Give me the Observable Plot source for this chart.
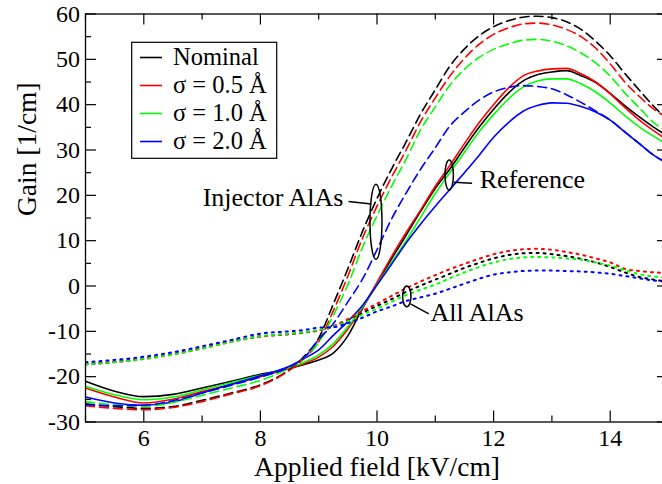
<!DOCTYPE html>
<html><head><meta charset="utf-8">
<script src="https://cdn.jsdelivr.net/npm/d3@7"></script>
<script src="https://cdn.jsdelivr.net/npm/@observablehq/plot@0.6"></script>
<style>
html,body{margin:0;padding:0;overflow:hidden;background:#fff;width:662px;height:484px}
#chart svg{max-width:none !important;display:block}
</style></head><body><div id="chart"></div>
<script>
// ---- data ----
const field = [5,5.5,6,6.5,7,7.5,8,8.5,8.75,9,9.25,9.5,9.75,10,10.25,10.5,10.75,11,11.25,11.5,11.75,12,12.25,12.5,12.75,13,13.25,13.5,13.75,14,14.25,14.5,14.75,15];

// Reference (solid)
const refNominal = [-21.0,-23.2,-24.4,-23.9,-22.5,-21.0,-19.5,-18.2,-17.3,-16.3,-14.8,-11.0,-5.0,0.5,6.0,11.2,16.5,21.5,25.8,30.5,35.0,39.0,42.5,45.2,46.6,47.2,47.5,46.4,44.9,42.5,39.8,37.3,35.0,33.0];
const refS05 = [-22.5,-24.5,-25.8,-25.0,-23.3,-21.7,-20.0,-18.2,-17.1,-15.7,-13.3,-9.5,-4.8,0.8,6.5,11.8,16.8,22.0,26.6,31.4,36.0,40.0,43.6,46.3,47.4,47.9,48.0,46.8,45.0,42.4,39.4,36.6,34.2,32.0];
const refS10 = [-22.1,-24.0,-25.1,-24.5,-22.9,-21.3,-19.7,-18.0,-16.8,-15.2,-12.7,-9.0,-4.6,0.3,5.2,10.0,15.2,20.4,25.0,29.5,34.0,37.8,41.2,43.8,45.2,45.7,45.7,44.6,42.8,40.4,37.6,35.1,33.0,31.0];
const refS20 = [-24.5,-25.8,-26.3,-25.6,-23.6,-21.7,-19.8,-17.7,-16.0,-14.1,-10.9,-7.8,-4.3,0.2,4.8,9.5,13.7,17.6,21.3,25.0,28.8,32.8,36.0,38.5,39.8,40.4,40.3,39.6,38.4,36.6,34.0,31.4,28.8,27.0];

// Injector AlAs (dashed)
const injNominal = [-26.0,-26.6,-27.0,-26.6,-25.2,-23.6,-21.8,-18.4,-15.5,-11.5,-4.0,3.8,12.0,19.3,25.8,31.8,38.0,43.3,48.5,52.3,55.2,57.2,58.5,59.3,59.5,59.2,58.3,56.6,54.0,50.8,46.9,43.2,39.6,36.5];
const injS05 = [-26.4,-27.0,-27.3,-26.8,-25.5,-23.8,-22.0,-18.6,-16.0,-12.3,-5.5,2.2,10.5,17.6,24.0,30.0,36.3,41.5,46.3,50.2,53.3,55.5,56.9,57.8,58.0,57.6,56.6,55.0,52.5,49.0,45.0,41.8,39.0,37.0];
const injS10 = [-25.5,-26.2,-26.5,-25.7,-24.1,-22.5,-20.8,-18.0,-15.8,-12.5,-6.5,0.3,8.5,15.5,22.0,28.0,34.5,39.5,44.3,47.8,50.4,52.2,53.4,54.2,54.4,54.0,53.0,51.4,49.2,46.3,42.6,39.3,36.0,34.0];
const injS20 = [-26.2,-26.4,-26.3,-25.3,-23.6,-21.9,-20.1,-17.8,-15.8,-11.8,-8.3,-3.5,1.5,8.0,14.8,20.5,25.8,30.5,35.3,38.4,41.0,42.8,43.8,44.2,44.0,43.5,42.2,40.5,38.6,36.6,34.0,31.4,28.8,27.0];

// All AlAs (dotted)
const allNominal = [-17.2,-16.7,-16.0,-15.0,-13.7,-12.2,-11.1,-10.6,-10.3,-9.8,-9.0,-7.6,-5.9,-4.4,-2.9,-1.3,0.1,1.4,2.7,4.0,5.1,6.1,6.8,7.2,7.3,7.0,6.6,6.0,5.2,4.2,3.0,2.0,1.4,1.0];
const allS05 = [-17.3,-16.8,-16.1,-15.1,-13.8,-12.3,-11.2,-10.6,-10.2,-9.8,-8.8,-7.3,-5.5,-3.9,-2.2,-0.5,1.0,2.4,3.7,4.9,6.0,7.0,7.7,8.1,8.2,8.0,7.5,6.9,6.1,5.2,3.8,3.3,3.0,2.9];
const allS10 = [-17.3,-16.8,-16.1,-15.1,-13.8,-12.3,-11.1,-10.5,-10.2,-9.7,-9.0,-7.8,-6.3,-5.0,-3.5,-2.0,-0.8,0.3,1.7,3.0,4.2,5.2,5.9,6.3,6.4,6.3,6.1,5.8,5.2,4.5,3.5,2.6,2.1,1.8];
const allS20 = [-16.8,-16.3,-15.6,-14.6,-13.3,-11.9,-10.5,-10.0,-9.7,-9.2,-9.1,-8.2,-7.0,-5.6,-4.5,-3.3,-2.5,-1.7,-0.6,0.5,1.6,2.5,3.0,3.3,3.4,3.4,3.3,3.2,3.0,2.7,2.2,1.7,1.2,1.0];

const sigmaLabels = ["Nominal", "σ = 0.5 Å", "σ = 1.0 Å", "σ = 2.0 Å"];
const groupNames = ["Reference", "Injector AlAs", "All AlAs"];

const majorX = [6, 8, 10, 12, 14];
const minorX = [5, 7, 9, 11, 13, 15];
const majorY = [-30, -20, -10, 0, 10, 20, 30, 40, 50, 60];
const minorY = [-25, -15, -5, 5, 15, 25, 35, 45, 55];

// annotations (data coordinates)
const noteLabels = ["Injector AlAs", "Reference", "All AlAs"];
const noteField = [9.425, 11.763, 10.918];
const noteGain = [17.65, 21.66, -7.83];
const ringField = [9.991, 11.247, 10.52];
const ringGain = [14.07, 24.37, -2.39];
const leadField1 = [9.511, 11.316, 10.575];
const leadGain1 = [18.64, 22.9, -3.93];
const leadField2 = [9.905, 11.631, 10.889];
const leadGain2 = [18.09, 22.68, -6.14];

// ---- styles / layout ----
const colors = ["#000000", "#ff0000", "#00ff00", "#0000ff"];
const dashes = {"Reference": null, "Injector AlAs": "9,5", "All AlAs": "2,5"};
const noteAnchor = ["end", "start", "start"];
const ringRx = [6, 4.2, 4.2];
const ringRy = [37.5, 15, 10.3];
const serif = "'Liberation Serif', 'Times New Roman', serif";

const W = 668, H = 484, ML = 85, MR = 0, MT = 13.5, MB = 62.5;
const FW = W - ML - MR, FH = H - MT - MB;
const majorLen = 11, minorLen = 6;

const seriesByGroup = {
  "Reference": [refNominal, refS05, refS10, refS20],
  "Injector AlAs": [injNominal, injS05, injS10, injS20],
  "All AlAs": [allNominal, allS05, allS10, allS20]
};
const rows = [];
for (const g of groupNames) {
  seriesByGroup[g].forEach((arr, i) => arr.forEach((v, j) => rows.push({field: field[j], gain: v, sigma: sigmaLabels[i], group: g})));
}
const notes = noteLabels.map((t, i) => ({t, x: noteField[i], y: noteGain[i], anchor: noteAnchor[i],
  x1: leadField1[i], y1: leadGain1[i], x2: leadField2[i], y2: leadGain2[i]}));

const lineMarks = groupNames.map(g => Plot.line(rows.filter(r => r.group === g), {
  x: "field", y: "gain", z: "sigma", stroke: "sigma", strokeWidth: g === "All AlAs" ? 2 : 1.6,
  strokeDasharray: dashes[g], curve: "monotone-x", clip: true
}));

const tickStyle = {stroke: "black", strokeWidth: 1.2};
const plot = Plot.plot({
  width: W, height: H, marginLeft: ML, marginRight: MR, marginTop: MT, marginBottom: MB,
  x: {domain: [5, 15], axis: null},
  y: {domain: [-30, 60], axis: null},
  color: {domain: sigmaLabels, range: colors},
  style: {fontFamily: serif, background: "white", maxWidth: "none", color: "black"},
  marks: [
    ...lineMarks,
    // ticks (inward)
    Plot.tickX(majorX, {x: d => d, insetTop: FH - majorLen, ...tickStyle}),
    Plot.tickX(majorX, {x: d => d, insetBottom: FH - majorLen, ...tickStyle}),
    Plot.tickX(minorX, {x: d => d, insetTop: FH - minorLen, ...tickStyle}),
    Plot.tickX(minorX, {x: d => d, insetBottom: FH - minorLen, ...tickStyle}),
    Plot.tickY(majorY, {y: d => d, insetRight: FW - majorLen, ...tickStyle}),
    Plot.tickY(majorY, {y: d => d, insetLeft: FW - majorLen, ...tickStyle}),
    Plot.tickY(minorY, {y: d => d, insetRight: FW - minorLen, ...tickStyle}),
    Plot.tickY(minorY, {y: d => d, insetLeft: FW - minorLen, ...tickStyle}),
    Plot.frame({stroke: "black", strokeWidth: 1.3}),
    // tick labels
    Plot.text(majorX, {x: d => d, text: d => String(d), frameAnchor: "bottom", dy: 16, lineAnchor: "middle", fontSize: 24, fill: "black"}),
    Plot.text(majorY, {y: d => d, text: d => String(d), frameAnchor: "left", dx: -5.5, textAnchor: "end", lineAnchor: "middle", fontSize: 24, fill: "black"}),
    // axis titles
    Plot.text(["Applied field [kV/cm]"], {frameAnchor: "bottom", dy: 54, lineAnchor: "bottom", fontSize: 27.5, fill: "black"}),
    Plot.text(["Gain [1/cm]"], {frameAnchor: "left", dx: -50, dy: -2, rotate: -90, lineAnchor: "bottom", fontSize: 27.5, fill: "black"}),
    // annotations
    Plot.link(notes, {x1: "x1", y1: "y1", x2: "x2", y2: "y2", stroke: "black", strokeWidth: 1.5}),
    Plot.text(notes.filter(d => d.anchor === "end"), {x: "x", y: "y", text: "t", textAnchor: "end", lineAnchor: "bottom", fontSize: 26, fill: "black"}),
    Plot.text(notes.filter(d => d.anchor === "start"), {x: "x", y: "y", text: "t", textAnchor: "start", lineAnchor: "bottom", fontSize: 26, fill: "black"})
  ]
});

// ellipses around the annotated curve bundles, positioned with the plot's scales
const sx = plot.scale("x"), sy = plot.scale("y");
const svg = d3.select(plot);
ringField.forEach((f, i) => {
  svg.append("ellipse")
    .attr("cx", sx.apply(f)).attr("cy", sy.apply(ringGain[i]))
    .attr("rx", ringRx[i]).attr("ry", ringRy[i])
    .attr("fill", "none").attr("stroke", "black").attr("stroke-width", 1.5);
});

// legend box (inside the plot area)
const lg = svg.append("g").attr("font-family", serif).attr("font-size", 24.5).attr("text-anchor", "start");
lg.append("rect").attr("x", 131.7).attr("y", 42.3).attr("width", 145).attr("height", 116)
  .attr("fill", "white").attr("stroke", "black").attr("stroke-width", 1.2);
sigmaLabels.forEach((lab, i) => {
  const yy = 57.5 + i * 28;
  lg.append("line").attr("x1", 140).attr("x2", 162).attr("y1", yy).attr("y2", yy)
    .attr("stroke", colors[i]).attr("stroke-width", 1.6);
  lg.append("text").attr("x", 173).attr("y", yy).attr("dy", "0.32em").attr("text-anchor", "start").attr("fill", "black").text(lab);
});

document.getElementById("chart").appendChild(plot);
</script>
</body></html>
